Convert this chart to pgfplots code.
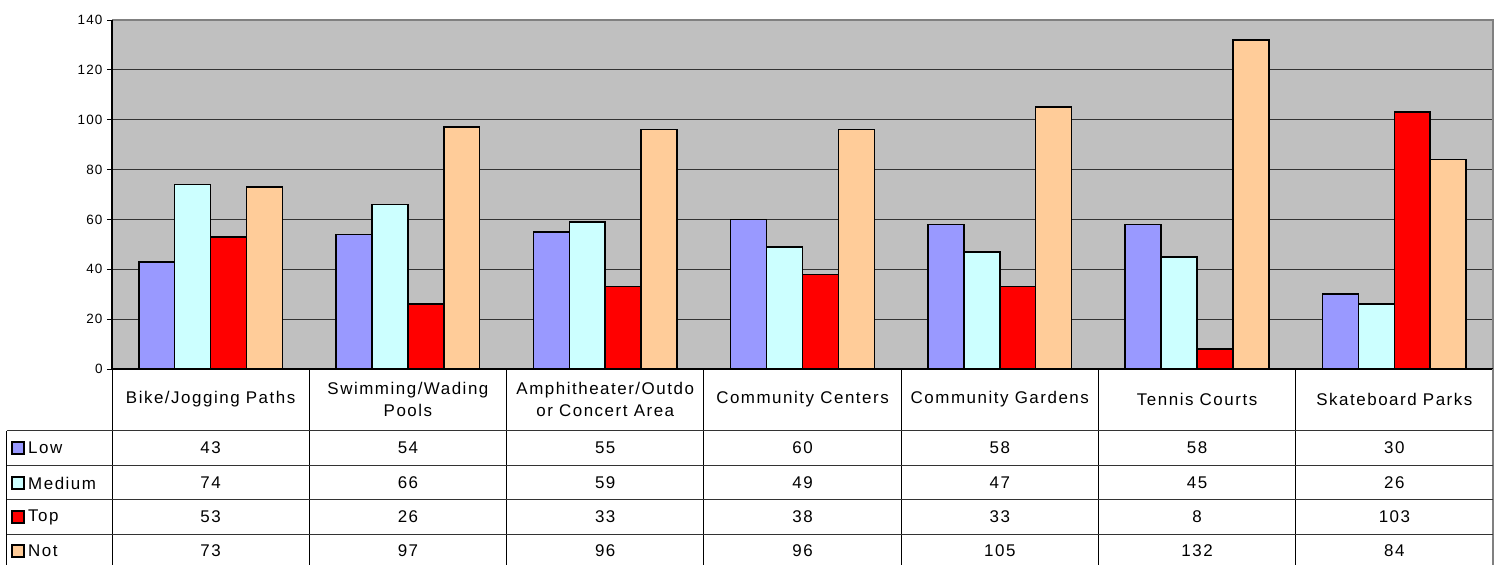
\documentclass[border=0pt]{standalone}
\usepackage{pgfplots}
\pgfplotsset{compat=1.18}
\usepackage{fontspec}
\setmainfont{Liberation Sans}[LetterSpace=9]
\definecolor{cLow}{HTML}{9999FF}
\definecolor{cMed}{HTML}{CCFFFF}
\definecolor{cTop}{HTML}{FF0000}
\definecolor{cNot}{HTML}{FFCC99}
\definecolor{bg}{HTML}{C0C0C0}
\begin{document}
\begin{tikzpicture}
\begin{axis}[
  anchor=south west, at={(0pt,0pt)},
  scale only axis, width=1381bp, height=349bp,
  xmin=-0.5, xmax=6.5, ymin=0, ymax=140,
  ytick={0,20,...,140}, xtick=\empty,
  ymajorgrids, grid style={black!80, line width=0.8bp},
  axis background/.style={fill=bg},
  axis line style={draw=none},
  ytick pos=left, tick align=outside, major tick length=5bp,
  tick style={black, line width=0.8bp},
  /pgf/number format/assume math mode=true,
  y tick label style={font=\fontsize{13.5}{15}\selectfont, xshift=-1bp},
  ybar=0pt, bar width=35.9bp,
  every axis plot/.append style={draw=black, line width=1.5bp},
  clip=false,
]
\addplot[fill=cLow] coordinates {(0,43) (1,54) (2,55) (3,60) (4,58) (5,58) (6,30)};
\addplot[fill=cMed] coordinates {(0,74) (1,66) (2,59) (3,49) (4,47) (5,45) (6,26)};
\addplot[fill=cTop] coordinates {(0,53) (1,26) (2,33) (3,38) (4,33) (5,8) (6,103)};
\addplot[fill=cNot] coordinates {(0,73) (1,97) (2,96) (3,96) (4,105) (5,132) (6,84)};
\draw[draw=black!50, line width=2bp] (rel axis cs:0,1) -- (rel axis cs:1,1) -- (rel axis cs:1,0);
\draw[black, line width=1.5bp] (rel axis cs:0,1) -- (rel axis cs:0,0) -- (rel axis cs:1,0);
\end{axis}
% data table below the chart; page coordinates from the top-left, in bp
\begin{scope}[x=1bp, y=-1bp, shift={(-112bp,369bp)}]
\useasboundingbox (0,0) rectangle (1499,565);
\draw[black!50, line width=1.5bp] (1493,369) -- (1493,565);
\foreach \k in {0,...,6} \draw[black, line width=1bp] ({112+197.29*\k},369) -- ({112+197.29*\k},565);
\draw[black, line width=1bp] (7,431) -- (7,565);
\foreach \yy in {431,466,500,534} \draw[black!80, line width=1bp] (7,\yy) -- (1493,\yy);
\def\fs{\fontsize{17}{22}\selectfont}
\foreach \i/\lab in {0/{Bike/Jogging Paths},1/{Swimming/Wading\\Pools},2/{Amphitheater/Outdo\\or Concert Area},3/{Community Centers},4/{Community Gardens},5/{Tennis Courts},6/{Skateboard Parks}}
  \node[align=center, font=\fs, inner sep=0] at ({112+197.29*(\i+0.5)},399) {\lab};
\foreach \r/\vals in {448/{43,54,55,60,58,58,30},483/{74,66,59,49,47,45,26},517/{53,26,33,38,33,8,103},551/{73,97,96,96,105,132,84}}
  \foreach \v [count=\c from 0] in \vals
    \node[font=\fs, inner sep=0] at ({112+197.29*(\c+0.5)},\r) {\v};
\foreach \r/\col/\nm in {448/cLow/Low,483/cMed/Medium,517/cTop/Top,551/cNot/Not}{
  \filldraw[fill=\col, draw=black, line width=1.3bp] (12,\r-6) rectangle (24,\r+6);
  \node[font=\fs, anchor=west, inner sep=0] at (28,\r) {\nm};
}
\end{scope}
\end{tikzpicture}
\end{document}
